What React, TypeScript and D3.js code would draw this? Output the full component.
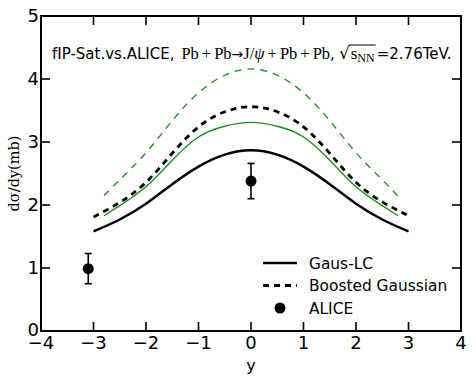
import React, { useEffect, useRef } from "react";
import * as d3 from "d3";

// Black curves (y from -3 to 3)
const rapidityBlack = [-3.0, -2.5, -2.0, -1.5, -1.0, -0.5, 0, 0.5, 1.0, 1.5, 2.0, 2.5, 3.0];
const gausLCBlack = [1.58, 1.77, 2.02, 2.33, 2.61, 2.80, 2.87, 2.80, 2.61, 2.33, 2.02, 1.77, 1.58];
const boostedBlack = [1.81, 2.04, 2.36, 2.82, 3.24, 3.48, 3.56, 3.48, 3.24, 2.82, 2.36, 2.05, 1.83];
// Green curves (y from -2.8 to 2.8)
const rapidityGreen = [-2.8, -2.5, -2.0, -1.5, -1.0, -0.5, 0, 0.5, 1.0, 1.5, 2.0, 2.5, 2.8];
const gausLCGreen = [1.83, 1.99, 2.29, 2.71, 3.08, 3.25, 3.31, 3.25, 3.08, 2.71, 2.29, 1.99, 1.83];
const boostedGreen = [2.15, 2.40, 2.83, 3.34, 3.78, 4.06, 4.16, 4.06, 3.78, 3.34, 2.83, 2.40, 2.14];
// ALICE data
const aliceRapidity = [-3.1, 0];
const aliceValue = [0.99, 2.38];
const aliceError = [0.24, 0.28];
// Ticks
const xTicks = [-4, -3, -2, -1, 0, 1, 2, 3, 4];
const yTicks = [0, 1, 2, 3, 4, 5];
const legendLabels = ["Gaus-LC", "Boosted Gaussian", "ALICE"];

const W = 474, H = 381;
const SANS = "DejaVu Sans";
const SERIF = "Liberation Serif";

export default function App() {
  const ref = useRef<SVGSVGElement>(null);
  useEffect(() => {
    const svg = d3.select(ref.current);
    svg.selectAll("*").remove();
    const x = d3.scaleLinear().domain([-4, 4]).range([41, 461]);
    const y = d3.scaleLinear().domain([0, 5]).range([331, 16]);
    const [x0, x1] = x.range();
    const [y0, y1] = y.range();
    const tickLen = 9;

    const line = d3.line<[number, number]>()
      .x(d => x(d[0])).y(d => y(d[1]))
      .curve(d3.curveNatural);

    const curves = [
      { xs: rapidityGreen, ys: boostedGreen, color: "#1a8a1a", w: 1.3, dash: "7,6" },
      { xs: rapidityBlack, ys: boostedBlack, color: "#000", w: 2.8, dash: "6,5" },
      { xs: rapidityGreen, ys: gausLCGreen, color: "#1a8a1a", w: 1.3, dash: null },
      { xs: rapidityBlack, ys: gausLCBlack, color: "#000", w: 2.5, dash: null },
    ];
    curves.forEach(c => {
      svg.append("path")
        .attr("d", line(c.xs.map((v, i) => [v, c.ys[i]] as [number, number])) as string)
        .attr("fill", "none").attr("stroke", c.color).attr("stroke-width", c.w)
        .attr("stroke-dasharray", c.dash as any);
    });

    // data
    aliceRapidity.forEach((r, i) => {
      const cx = x(r);
      const g = svg.append("g");
      g.append("line").attr("x1", cx).attr("x2", cx)
        .attr("y1", y(aliceValue[i] - aliceError[i])).attr("y2", y(aliceValue[i] + aliceError[i]))
        .attr("stroke", "#000").attr("stroke-width", 1.6);
      [aliceValue[i] - aliceError[i], aliceValue[i] + aliceError[i]].forEach(v => {
        g.append("line").attr("x1", cx - 3.5).attr("x2", cx + 3.5).attr("y1", y(v)).attr("y2", y(v))
          .attr("stroke", "#000").attr("stroke-width", 1.6);
      });
      g.append("circle").attr("cx", cx).attr("cy", y(aliceValue[i])).attr("r", 5.5).attr("fill", "#000");
    });

    // frame
    svg.append("rect").attr("x", x0).attr("y", y1).attr("width", x1 - x0).attr("height", y0 - y1)
      .attr("fill", "none").attr("stroke", "#000").attr("stroke-width", 2);

    // ticks
    xTicks.forEach(t => {
      svg.append("line").attr("x1", x(t)).attr("x2", x(t)).attr("y1", y0).attr("y2", y0 - tickLen)
        .attr("stroke", "#000").attr("stroke-width", 1.6);
      svg.append("line").attr("x1", x(t)).attr("x2", x(t)).attr("y1", y1).attr("y2", y1 + tickLen)
        .attr("stroke", "#000").attr("stroke-width", 1.6);
      svg.append("text").attr("x", x(t)).attr("y", y0 + 18).attr("text-anchor", "middle")
        .attr("font-family", SANS).attr("font-size", 18).text(t < 0 ? "\u2212" + Math.abs(t) : String(t));
    });
    yTicks.forEach(t => {
      svg.append("line").attr("x1", x0).attr("x2", x0 + tickLen).attr("y1", y(t)).attr("y2", y(t))
        .attr("stroke", "#000").attr("stroke-width", 1.6);
      svg.append("line").attr("x1", x1).attr("x2", x1 - tickLen).attr("y1", y(t)).attr("y2", y(t))
        .attr("stroke", "#000").attr("stroke-width", 1.6);
      svg.append("text").attr("x", x0 - 2).attr("y", y(t) - (t === 0 ? 1 : 0)).attr("dy", "0.36em")
        .attr("text-anchor", "end")
        .attr("font-family", SANS).attr("font-size", 18).text(String(t));
    });

    // axis labels
    svg.append("text").attr("x", x(0)).attr("y", 371).attr("text-anchor", "middle")
      .attr("font-family", SANS).attr("font-size", 16).text("y");
    svg.append("text").attr("transform", `translate(19,${(y0 + y1) / 2}) rotate(-90)`)
      .attr("text-anchor", "middle").attr("font-family", "DejaVu Serif").attr("font-size", 14.5)
      .text("d\u03c3/dy(mb)");

    // legend
    const lx = 263, lw = 34, tx = 309;
    const ly = [263, 285.5, 308];
    svg.append("line").attr("x1", lx).attr("x2", lx + lw).attr("y1", ly[0]).attr("y2", ly[0])
      .attr("stroke", "#000").attr("stroke-width", 2.5);
    svg.append("line").attr("x1", lx).attr("x2", lx + lw).attr("y1", ly[1]).attr("y2", ly[1])
      .attr("stroke", "#000").attr("stroke-width", 2.8).attr("stroke-dasharray", "6,5");
    svg.append("circle").attr("cx", lx + lw / 2).attr("cy", ly[2]).attr("r", 5.5).attr("fill", "#000");
    legendLabels.forEach((l, i) => {
      svg.append("text").attr("x", tx).attr("y", ly[i]).attr("dy", "0.36em")
        .attr("font-family", SANS).attr("font-size", 15.4).text(l);
    });

    // title, assembled piece by piece
    const baseY = 59;
    let cx = 52;
    const fs = 15;
    const sfs = 16.5;
    const put = (t: string, family: string, size: number, dy = 0, italic = false) => {
      const el = svg.append("text").attr("x", cx).attr("y", baseY + dy)
        .attr("font-family", family).attr("font-size", size)
        .attr("font-style", italic ? "italic" : "normal")
        .style("white-space", "pre").text(t);
      const w = (el.node() as SVGTextElement).getComputedTextLength();
      const start = cx;
      cx += w;
      return { start, end: cx };
    };
    const gap = (px: number) => { cx += px; };
    put("fIP-Sat.vs.ALICE,", SANS, fs);
    gap(7);
    put("Pb", SERIF, sfs);
    gap(3); put("+", SERIF, sfs); gap(3);
    put("Pb", SERIF, sfs);
    put("\u2192", SANS, 14);
    put("J/", SERIF, sfs);
    put("\u03c8", SERIF, sfs, 0, true);
    gap(3); put("+", SERIF, sfs); gap(3);
    put("Pb", SERIF, sfs);
    gap(3); put("+", SERIF, sfs); gap(3);
    put("Pb", SERIF, sfs);
    put(",", SANS, fs);
    gap(4);
    const sq = put("\u221a", SANS, fs + 2);
    gap(1);
    put("s", SERIF, 17);
    const s2 = put("NN", SERIF, 12, 3);
    svg.append("line").attr("x1", sq.end - 1).attr("x2", s2.end + 1)
      .attr("y1", baseY - 14).attr("y2", baseY - 14).attr("stroke", "#000").attr("stroke-width", 1);
    gap(2);
    put("=2.76TeV.", SANS, fs);
  }, []);

  return (
    <svg ref={ref} width={W} height={H}
      style={{ position: "absolute", left: 0, top: 0, background: "#fff" }} />
  );
}
